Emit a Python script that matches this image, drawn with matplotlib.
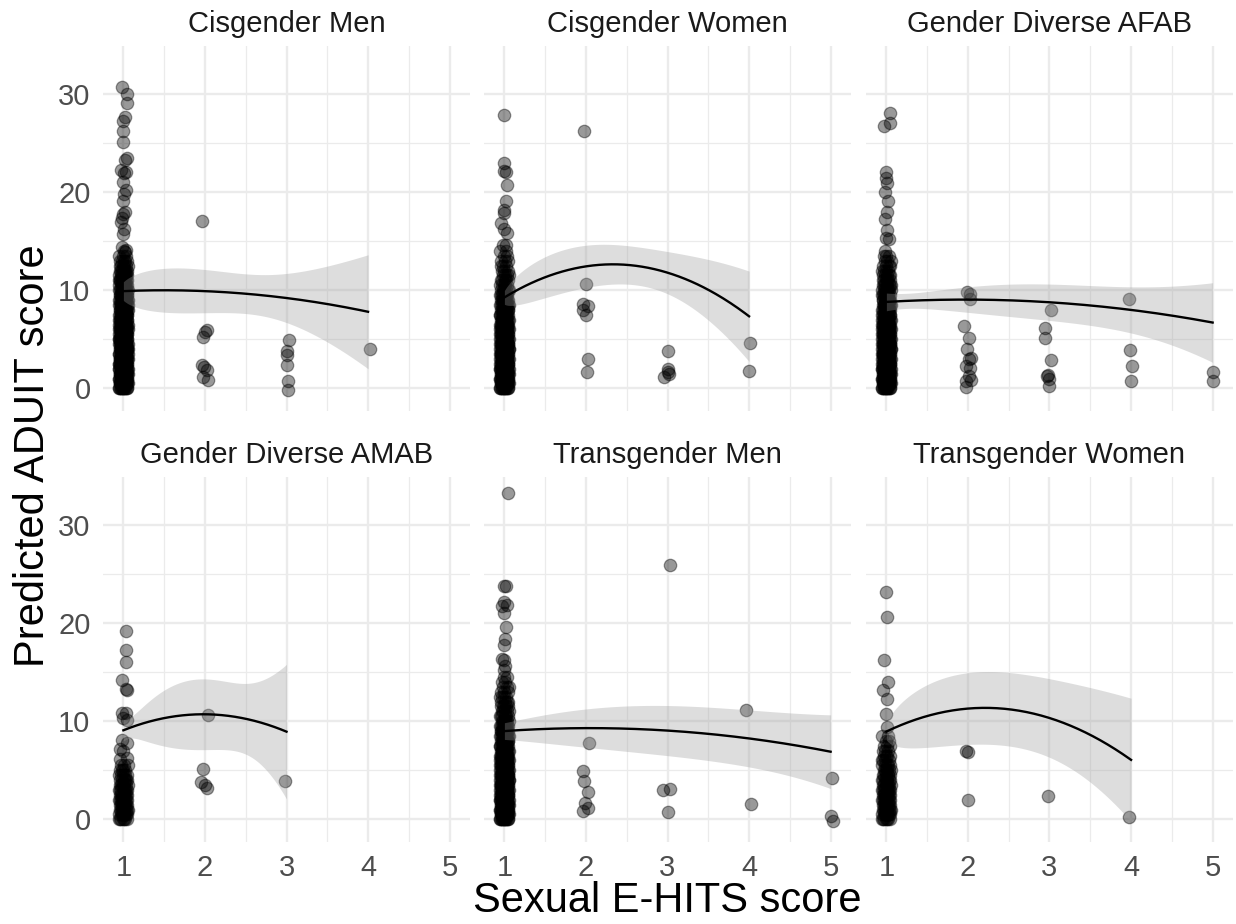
import matplotlib
matplotlib.use('Agg')
import matplotlib.pyplot as plt
import numpy as np

plt.rcParams['font.family'] = ['Liberation Sans', 'DejaVu Sans']

# facet titles, in plotting order
groups = ['Cisgender Men', 'Cisgender Women', 'Gender Diverse AFAB',
          'Gender Diverse AMAB', 'Transgender Men', 'Transgender Women']

# sparse points (jittered x, predicted score)
cis_men_x = [0.98, 1.04, 1.04, 1.02, 0.99, 0.99, 0.99, 1.04, 1.02, 0.97, 1.03, 1.01, 0.99,
             1.03, 1.01, 1.00, 1.02, 1.00, 0.98, 0.97, 1.01, 1.00, 0.98, 1.03, 1.01, 1.02,
             1.97, 2.03, 2.00, 1.98, 1.96, 1.99, 2.03, 1.98, 2.04,
             3.03, 3.00, 3.00, 3.00, 3.02, 3.02, 4.02]
cis_men_y = [30.7, 30.0, 29.0, 27.6, 27.2, 26.2, 25.1, 23.4, 23.2, 22.2, 22.0, 21.9, 21.0,
             20.2, 19.8, 19.1, 18.0, 17.7, 17.3, 16.9, 16.2, 15.7, 14.4, 14.1, 14.0, 13.9,
             17.0, 5.9, 5.7, 5.2, 2.4, 2.2, 1.9, 1.2, 0.9,
             4.9, 3.8, 3.4, 2.4, 0.8, -0.2, 4.0]

cis_women_x = [1.00, 0.99, 0.99, 1.02, 1.03, 1.02, 0.99, 1.00, 0.96, 0.99, 1.03, 0.98, 1.02,
               1.98, 2.00, 1.97, 2.03, 1.97, 2.00, 2.02, 2.01,
               3.00, 3.01, 3.02, 2.96, 3.00, 4.01, 4.00]
cis_women_y = [27.8, 22.9, 22.1, 22.0, 20.7, 19.1, 18.2, 17.9, 16.8, 16.2, 15.8, 14.6, 14.6,
               26.2, 10.6, 8.6, 8.4, 8.0, 7.45, 3.0, 1.65,
               3.8, 2.0, 1.5, 1.15, 1.7, 4.66, 1.73]

gd_afab_x = [1.04, 1.04, 0.97, 0.99, 0.99, 1.01, 0.98, 1.02, 1.01, 0.98, 1.01, 0.99, 1.03, 0.98,
             1.99, 2.02, 2.03, 1.95, 2.01, 1.99, 2.04, 2.01, 1.98, 2.02, 1.98, 2.04, 1.98, 2.01,
             3.02, 2.95, 2.95, 3.02, 2.98, 3.00, 2.99, 2.97,
             3.98, 3.99, 4.01, 4.00, 5.00, 5.00]
gd_afab_y = [28.0, 27.0, 26.7, 22.0, 21.4, 20.9, 20.0, 19.1, 18.0, 17.2, 16.1, 15.3, 15.2, 14.0,
             9.8, 9.6, 9.1, 6.4, 5.1, 4.05, 3.1, 3.0, 2.3, 2.1, 0.8, 0.9, 0.1, 1.3,
             8.0, 6.1, 5.1, 2.85, 1.4, 1.0, 0.2, 1.3,
             9.15, 3.9, 2.25, 0.75, 1.65, 0.8]

gd_amab_x = [1.03, 1.03, 1.03, 0.98, 1.03, 1.05, 0.98, 1.03, 0.99, 1.05, 0.98, 1.04, 0.96,
             0.99, 1.04, 0.96, 2.04, 1.98, 1.95, 2.02, 2.00, 2.98]
gd_amab_y = [19.2, 17.2, 16.0, 14.2, 13.3, 13.2, 10.8, 10.8, 10.3, 10.1, 8.1, 7.8, 7.2,
             7.0, 6.3, 6.1, 10.6, 5.1, 3.8, 3.2, 3.5, 3.9]

trans_men_x = [1.04, 1.00, 1.02, 0.97, 1.03, 1.00, 0.99, 1.02, 1.01, 0.99, 0.97, 1.00, 1.01, 0.99,
               2.04, 1.97, 1.98, 2.03, 1.99, 1.97, 2.02,
               3.03, 2.95, 3.03, 3.01, 3.96, 4.02, 5.02, 5.01, 5.03]
trans_men_y = [33.2, 23.8, 23.8, 21.7, 21.8, 22.1, 21.0, 19.6, 18.4, 17.7, 16.3, 16.2, 15.6, 15.2,
               7.8, 4.9, 3.9, 2.8, 1.7, 0.9, 1.2,
               25.9, 3.0, 3.1, 0.75, 11.1, 1.6, 4.25, 0.3, -0.2]

trans_women_x = [1.00, 1.01, 0.97, 1.02, 0.96, 1.01, 0.99, 1.01, 1.98, 2.00, 2.00, 2.98, 3.98]
trans_women_y = [23.1, 20.6, 16.2, 14.0, 13.2, 12.3, 10.7, 9.4, 7.0, 6.9, 2.0, 2.35, 0.2]

# crowded column at score 1: number of points per 0.5 step of ADUIT, from 0 upward
cis_men_dense = [14, 18, 18, 18, 18, 18, 17, 16, 16, 16, 15, 15, 14, 14, 14, 13, 12, 12, 11, 11,
                 10, 9, 9, 8, 7, 6, 5, 3]
cis_women_dense = [14, 17, 17, 17, 17, 17, 16, 16, 15, 15, 14, 13, 13, 12, 12, 11, 10, 9, 8, 7,
                   6, 5, 5, 4, 3, 3, 3, 2, 2]
gd_afab_dense = [14, 17, 17, 17, 17, 17, 16, 16, 15, 15, 14, 14, 13, 12, 12, 11, 10, 10, 9, 8,
                 8, 7, 6, 5, 4, 4, 3, 3]
gd_amab_dense = [7, 8, 8, 8, 8, 8, 7, 7, 6, 5, 4, 3]
trans_men_dense = [14, 17, 17, 17, 17, 17, 16, 16, 15, 15, 14, 13, 13, 12, 12, 11, 10, 10, 9, 8,
                   7, 6, 5, 5, 4, 4, 3, 3, 2, 2]
trans_women_dense = [7, 8, 8, 8, 8, 8, 8, 7, 7, 6, 6, 5, 4, 4, 3, 3, 2, 2]

# quadratic smooth: fitted value and 95% band at a few scores
cis_men_sx = [1, 2, 3, 4]
cis_men_fit = [9.9, 9.9, 9.2, 7.8]
cis_men_lo = [8.95, 7.7, 6.6, 2.0]
cis_men_hi = [10.85, 12.1, 11.6, 13.6]

cis_women_sx = [1, 2, 3, 4]
cis_women_fit = [9.3, 12.3, 11.9, 7.3]
cis_women_lo = [8.6, 10.1, 9.5, 2.7]
cis_women_hi = [10.0, 14.4, 13.8, 11.9]

gd_afab_sx = [1, 2, 3, 4, 5]
gd_afab_fit = [8.8, 9.05, 8.75, 8.0, 6.7]
gd_afab_lo = [7.9, 7.8, 6.9, 5.6, 2.7]
gd_afab_hi = [9.7, 10.4, 10.6, 10.3, 10.8]

gd_amab_sx = [1, 1.5, 2, 2.5, 3]
gd_amab_fit = [9.1, 10.25, 10.7, 10.3, 8.9]
gd_amab_lo = [8.1, 7.3, 7.0, 6.6, 2.1]
gd_amab_hi = [10.3, 13.0, 14.2, 13.8, 15.8]

trans_men_sx = [1, 2, 3, 4, 5]
trans_men_fit = [9.0, 9.25, 9.1, 8.2, 6.9]
trans_men_lo = [8.2, 7.2, 6.7, 5.3, 3.3]
trans_men_hi = [9.9, 11.1, 11.8, 11.1, 10.8]

trans_women_sx = [1, 2, 3, 4]
trans_women_fit = [9.0, 11.1, 10.5, 6.0]
trans_women_lo = [8.2, 7.4, 6.0, 0.1]
trans_women_hi = [9.9, 14.7, 14.0, 12.65]

points_x = [cis_men_x, cis_women_x, gd_afab_x, gd_amab_x, trans_men_x, trans_women_x]
points_y = [cis_men_y, cis_women_y, gd_afab_y, gd_amab_y, trans_men_y, trans_women_y]
dense_counts = [cis_men_dense, cis_women_dense, gd_afab_dense, gd_amab_dense,
                trans_men_dense, trans_women_dense]
smooth_x = [cis_men_sx, cis_women_sx, gd_afab_sx, gd_amab_sx, trans_men_sx, trans_women_sx]
smooth_fit = [cis_men_fit, cis_women_fit, gd_afab_fit, gd_amab_fit, trans_men_fit, trans_women_fit]
smooth_lo = [cis_men_lo, cis_women_lo, gd_afab_lo, gd_amab_lo, trans_men_lo, trans_women_lo]
smooth_hi = [cis_men_hi, cis_women_hi, gd_afab_hi, gd_amab_hi, trans_men_hi, trans_women_hi]

W, H = 1236, 924
fig = plt.figure(figsize=(W / 100, H / 100), dpi=100)

lefts = [103, 484, 866]
tops = [46, 477]
pw, ph = 367, 365
grid_c = '#EBEBEB'
txt_c = '#4D4D4D'

for i, name in enumerate(groups):
    r, c = divmod(i, 3)
    ax = fig.add_axes([lefts[c] / W, 1 - (tops[r] + ph) / H, pw / W, ph / H])
    ax.set_xlim(0.75, 5.25)
    ax.set_ylim(-2.3, 34.85)
    for s in ax.spines.values():
        s.set_visible(False)
    ax.set_xticks([1, 2, 3, 4, 5])
    ax.set_yticks([0, 10, 20, 30])
    ax.set_xticks([1.5, 2.5, 3.5, 4.5], minor=True)
    ax.set_yticks([5, 15, 25], minor=True)
    ax.grid(True, which='major', color=grid_c, lw=1.7)
    ax.grid(True, which='minor', color=grid_c, lw=0.9)
    ax.set_axisbelow(True)
    ax.tick_params(which='both', length=0, labelsize=21, labelcolor=txt_c, pad=9)
    if c > 0:
        ax.set_yticklabels([])
    if r == 0:
        ax.set_xticklabels([])

    # crowded column at score 1 (jittered deterministically)
    cnt = np.array(dense_counts[i])
    dy = np.repeat(np.arange(len(cnt)) * 0.5, cnt)
    k = np.arange(len(dy))
    dx = 1 + 0.055 * (2 * ((k * 0.6180339887) % 1) - 1)
    xs = np.concatenate([dx, points_x[i]])
    ys = np.concatenate([dy, points_y[i]])
    ax.scatter(xs, ys, s=80, c='black', alpha=0.4, edgecolors='black',
               linewidths=0.9, zorder=2)

    # smooth line with confidence band
    sx = np.array(smooth_x[i], float)
    fit = np.array(smooth_fit[i])
    hw = (np.array(smooth_hi[i]) - np.array(smooth_lo[i])) / 2
    cf = np.polyfit(sx, fit, 2)
    cv = np.polyfit(sx, hw ** 2, min(4, len(sx) - 1))
    xx = np.linspace(sx[0], sx[-1], 200)
    yy = np.polyval(cf, xx)
    ww = np.sqrt(np.clip(np.polyval(cv, xx), 0.05, None))
    ax.fill_between(xx, yy - ww, yy + ww, color='#999999', alpha=0.33, lw=0, zorder=3)
    ax.plot(xx, yy, color='black', lw=1.7, zorder=4)

    ax.text(0.5, 1.0 + 14 / ph, name, transform=ax.transAxes, ha='center', va='baseline',
            fontsize=21, color='#1A1A1A')

fig.text((103 + 1232) / 2 / W, 1 - 912 / H, 'Sexual E-HITS score', ha='center',
         va='baseline', fontsize=30, color='black')
fig.text(13 / W, 1 - 456 / H, 'Predicted ADUIT score', rotation=90, ha='left',
         va='center', fontsize=30, color='black')

fig.savefig('out.png', dpi=100)
